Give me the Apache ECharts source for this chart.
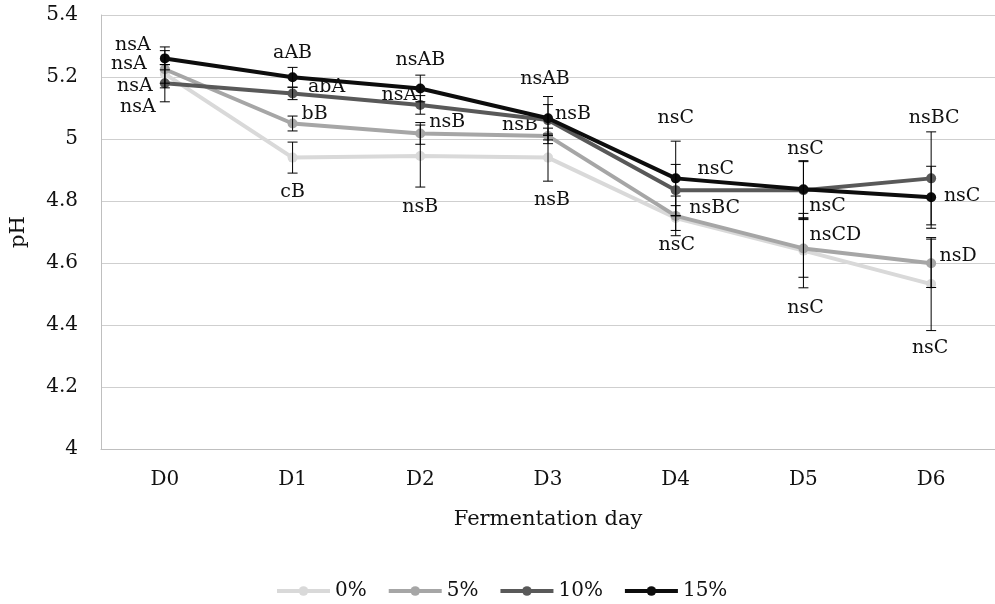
<!DOCTYPE html>
<html><head><meta charset="utf-8">
<script src="https://cdn.jsdelivr.net/npm/echarts@6/dist/echarts.min.js"></script>
<style>html,body{margin:0;padding:0;background:#fff}#c{width:995px;height:604px}</style>
</head><body><div id="c"></div>
<script>
const categories = ['D0','D1','D2','D3','D4','D5','D6'];
const seriesNames = ['0%','5%','10%','15%'];
const ph0  = [5.21, 4.94, 4.945, 4.94, 4.745, 4.64, 4.532];
const ph5  = [5.225, 5.05, 5.018, 5.01, 4.752, 4.647, 4.599];
const ph10 = [5.18, 5.147, 5.11, 5.061, 4.835, 4.835, 4.873];
const ph15 = [5.26, 5.199, 5.163, 5.067, 4.873, 4.838, 4.812];
const err0  = [0.03, 0.05, 0.10, 0.076, 0.04, 0.12, 0.15];
const err5  = [0.06, 0.024, 0.035, 0.025, 0.064, 0.093, 0.078];
const err10 = [0.06, 0.02, 0.03, 0.05, 0.083, 0.092, 0.15];
const err15 = [0.037, 0.032, 0.043, 0.07, 0.12, 0.092, 0.10];
const lbl0  = ['nsA','cB','nsB','nsB','nsC','nsC','nsC'];
const lbl5  = ['nsA','bB','nsB','nsB','nsBC','nsCD','nsD'];
const lbl10 = ['nsA','abA','nsA','nsB','nsC','nsC','nsBC'];
const lbl15 = ['nsA','aAB','nsAB','nsAB','nsC','nsC','nsC'];
const yTicks = {min: 4, max: 5.4, interval: 0.2};

// label placement (pixel offsets from each marker)
const off0  = [[-27,33],[0,34],[0,51],[4,42],[1,27],[2,57],[-1,64]];
const off5  = [[-36,-5],[22,-9],[27,-11],[-28,-11],[39,-8],[32,-13],[27,-7]];
const off10 = [[-30,3],[34,-6],[-21,-10],[25,-6],[40,-21],[24,16],[3,-60]];
const off15 = [[-32,-13],[0,-24],[0,-28],[-3,-39],[0,-60],[2,-40],[31,-1]];

const colors = ['#d9d9d9','#a6a6a6','#595959','#0d0d0d'];
const vals = [ph0, ph5, ph10, ph15];
const errs = [err0, err5, err10, err15];
const lbls = [lbl0, lbl5, lbl10, lbl15];
const offs = [off0, off5, off10, off15];
const FONT = 'DejaVu Serif';

const series = [];
vals.forEach((v, s) => {
  series.push({
    name: seriesNames[s], type: 'line', z: 2 + s * 0.1,
    symbol: 'circle', symbolSize: 10,
    itemStyle: {color: colors[s]},
    lineStyle: {color: colors[s], width: 4},
    emphasis: {disabled: true},
    data: v.map((y, i) => ({
      value: y,
      label: {show: true, formatter: lbls[s][i], position: 'inside', offset: offs[s][i],
        fontFamily: FONT, fontSize: 19, color: '#111'}
    }))
  });
});
vals.forEach((v, s) => {
  series.push({
    type: 'custom', z: 5, silent: true,
    data: v.map((y, i) => [i, y, errs[s][i]]),
    renderItem: function (params, api) {
      const i = api.value(0), y = api.value(1), e = api.value(2);
      const hi = api.coord([i, y + e]);
      const lo = api.coord([i, y - e]);
      const hw = 5;
      const st = {stroke: '#000', lineWidth: 1};
      return {type: 'group', children: [
        {type: 'line', shape: {x1: hi[0], y1: hi[1], x2: lo[0], y2: lo[1]}, style: st},
        {type: 'line', shape: {x1: hi[0]-hw, y1: hi[1], x2: hi[0]+hw, y2: hi[1]}, style: st},
        {type: 'line', shape: {x1: lo[0]-hw, y1: lo[1], x2: lo[0]+hw, y2: lo[1]}, style: st}
      ]};
    }
  });
});

const chart = echarts.init(document.getElementById('c'), null, {renderer: 'canvas'});
chart.setOption({
  animation: false,
  backgroundColor: '#fff',
  grid: {left: 97, top: 15, width: 903, height: 434, containLabel: false},
  xAxis: {
    type: 'category', data: categories, boundaryGap: true,
    name: 'Fermentation day', nameLocation: 'middle', nameGap: 60,
    nameTextStyle: {fontFamily: FONT, fontSize: 21, color: '#111'},
    axisLine: {show: true, lineStyle: {color: '#bfbfbf'}},
    axisTick: {show: false},
    axisLabel: {fontFamily: FONT, fontSize: 20, color: '#111', margin: 21}
  },
  yAxis: {
    type: 'value', min: yTicks.min, max: yTicks.max, interval: yTicks.interval,
    name: 'pH', nameLocation: 'middle', nameGap: 72, nameRotate: 90,
    nameTextStyle: {fontFamily: FONT, fontSize: 21, color: '#111'},
    axisLine: {show: true, lineStyle: {color: '#bfbfbf'}},
    axisTick: {show: false},
    splitLine: {lineStyle: {color: '#cfcfcf'}},
    axisLabel: {fontFamily: FONT, fontSize: 20, color: '#111', margin: 23}
  },
  legend: {
    data: seriesNames, left: 270, top: 576,
    itemWidth: 53, itemHeight: 12, itemGap: 20,
    lineStyle: {width: 4},
    textStyle: {fontFamily: FONT, fontSize: 20, color: '#111'}
  },
  series: series
});
</script></body></html>
